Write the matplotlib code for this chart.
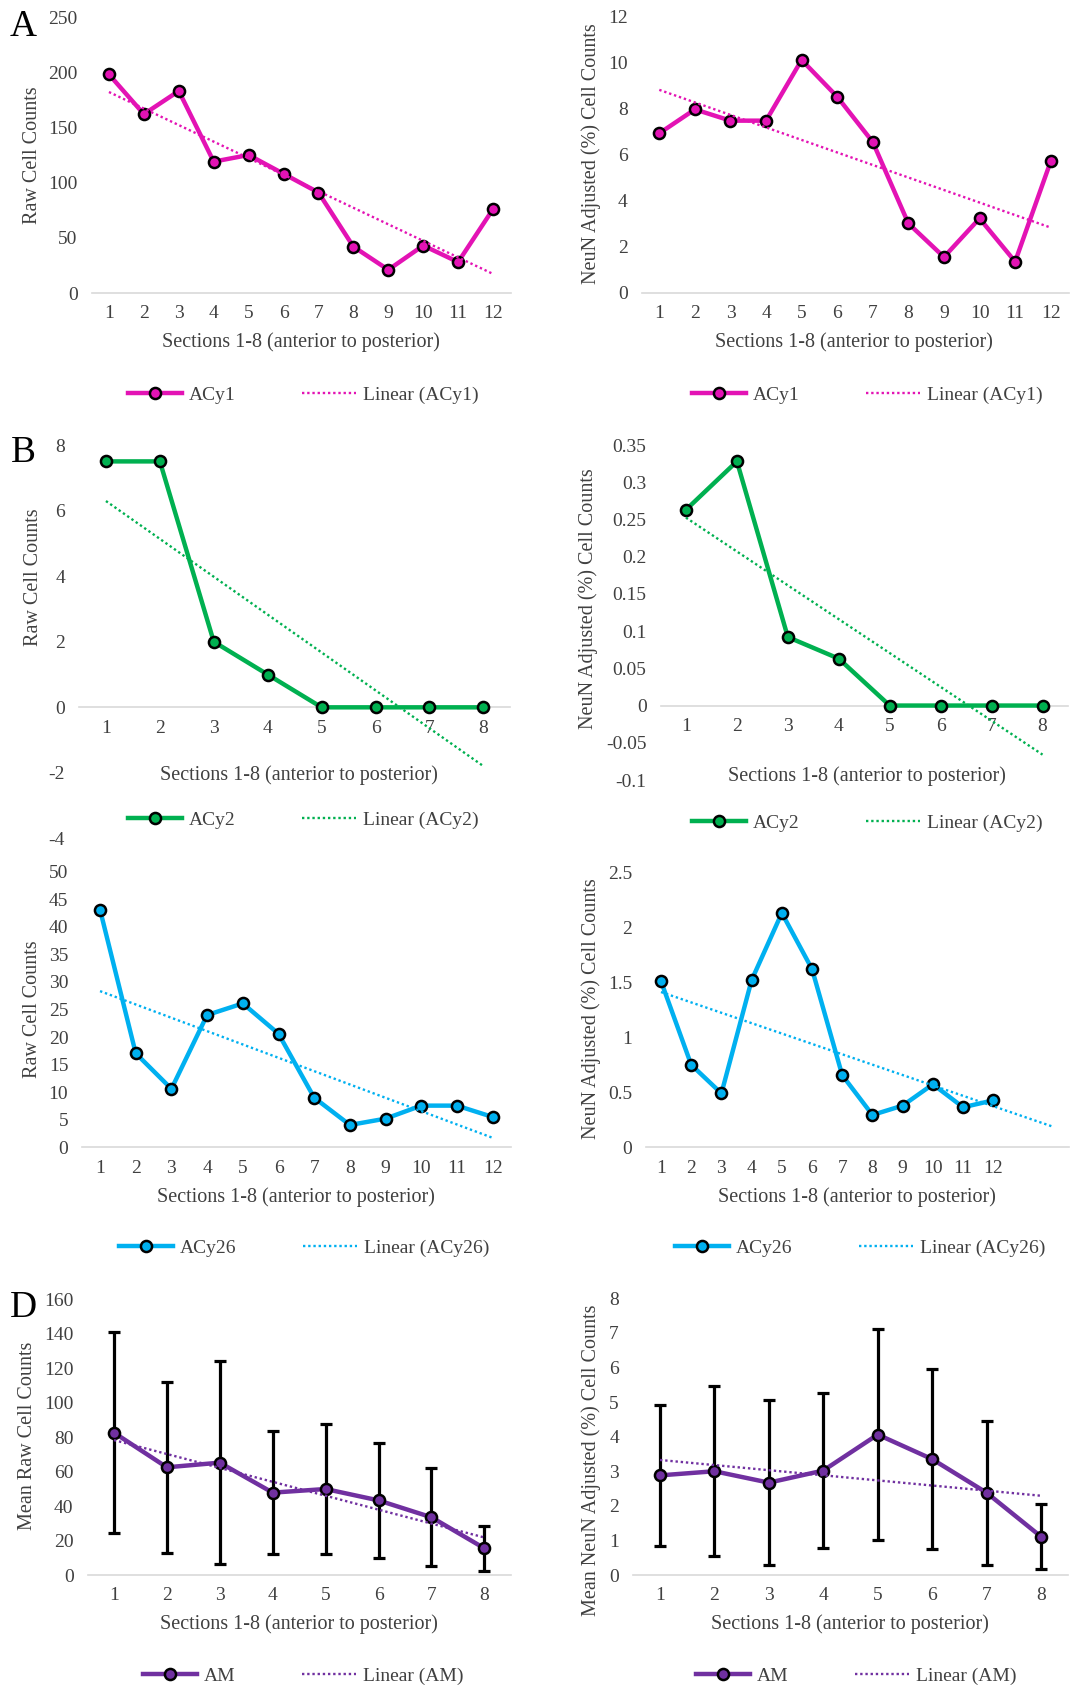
import numpy as np
import matplotlib
matplotlib.use("Agg")
from matplotlib import pyplot as plt
from matplotlib.ticker import FuncFormatter

plt.rcParams["font.family"] = ["Liberation Serif", "DejaVu Serif"]

W, H = 1091, 1688
TXT = "#404040"

sections_12 = list(range(1, 13))
sections_8 = list(range(1, 9))

acy1_raw = [198, 162, 183, 119, 125, 108, 91, 42, 21, 43, 28, 76]
acy1_neun = [6.93, 7.97, 7.48, 7.48, 10.12, 8.52, 6.55, 3.01, 1.55, 3.23, 1.35, 5.71]
acy2_raw = [7.5, 7.5, 2, 1, 0, 0, 0, 0]
acy2_neun = [0.263, 0.328, 0.092, 0.063, 0, 0, 0, 0]
acy26_raw = [43.1, 17.05, 10.6, 24.0, 26.1, 20.6, 9.0, 4.05, 5.2, 7.56, 7.56, 5.5]
acy26_neun = [1.51, 0.75, 0.49, 1.52, 2.13, 1.62, 0.655, 0.294, 0.379, 0.573, 0.364, 0.427]
am_raw = [82.6, 62.5, 65.2, 47.8, 49.9, 43.3, 33.5, 15.5]
am_raw_sd = [58.5, 49.6, 59.0, 35.8, 37.8, 33.2, 28.4, 13.0]
am_neun = [2.88, 3.0, 2.67, 3.02, 4.06, 3.35, 2.38, 1.11]
am_neun_sd = [2.04, 2.46, 2.38, 2.25, 3.06, 2.6, 2.08, 0.95]

MAGENTA = "#E313B4"
GREEN = "#00B050"
CYAN = "#00B0F0"
PURPLE = "#7030A0"

XLABEL = "Sections 1-8 (anterior to posterior)"
NEUN = "NeuN Adjusted (%) Cell Counts"
FS = 14


def panel(fig, box, ylim, ystep, x, y, color, name, ylabel,
          xlab_xy, ylab_xy, leg_xy, ncat=None, yerr=None):
    left, right, top, bottom = box
    ax = fig.add_axes([left / W, 1 - bottom / H, (right - left) / W, (bottom - top) / H])
    n = ncat or len(x)
    ax.set_xlim(0.5, n + 0.5)
    ax.set_ylim(*ylim)
    ax.set_xticks(x)
    ax.set_yticks(np.arange(ylim[0], ylim[1] + ystep / 2, ystep))
    ax.yaxis.set_major_formatter(FuncFormatter(lambda v, p: f"{round(v, 4):g}"))
    for s in ["left", "right", "top"]:
        ax.spines[s].set_visible(False)
    ax.spines["bottom"].set_position(("data", 0))
    ax.spines["bottom"].set_color("#D9D9D9")
    ax.spines["bottom"].set_linewidth(1.2)
    ax.tick_params(axis="x", length=0, pad=9, labelsize=FS, labelcolor=TXT)
    ax.tick_params(axis="y", length=0, pad=10, labelsize=FS, labelcolor=TXT)
    ax.patch.set_alpha(0)

    if yerr is not None:
        ax.errorbar(x, y, yerr=yerr, fmt="none", ecolor="black", elinewidth=2.3,
                    capsize=4, capthick=2.3, zorder=2)
    line, = ax.plot(x, y, color=color, lw=3.2, marker="o", ms=8,
                    mfc=color, mec="black", mew=1.8, zorder=3)
    k, b = np.polyfit(x, y, 1)
    xt = np.array([1, n])
    trend, = ax.plot(xt, k * xt + b, color=color, lw=1.7,
                     linestyle=(0, (1, 1.2)), zorder=4)

    def to_ax(px, py):
        return (px - left) / (right - left), (bottom - py) / (bottom - top)

    ax.set_xlabel(XLABEL, fontsize=14.5, color=TXT, va="center")
    ax.xaxis.set_label_coords(*to_ax(*xlab_xy))
    ax.set_ylabel(ylabel, fontsize=14.5, color=TXT, va="center")
    ax.yaxis.set_label_coords(*to_ax(*ylab_xy))

    fig.legend(handles=[line, trend], labels=[name, f"Linear ({name})"],
               loc="center", bbox_to_anchor=(leg_xy[0] / W, 1 - leg_xy[1] / H),
               ncol=2, frameon=False, fontsize=FS, handlelength=2.8,
               columnspacing=3.4, handletextpad=0.35, labelcolor=TXT)
    return ax


def main():
    fig = plt.figure(figsize=(W / 100, H / 100), dpi=100)

    # A
    panel(fig, (91.5, 510.5, 17, 293), (0, 250), 50, sections_12, acy1_raw,
          MAGENTA, "ACy1", "Raw Cell Counts", (301, 342), (33, 155), (303, 395))
    panel(fig, (641.5, 1068.5, 16.7, 292.7), (0, 12), 2, sections_12, acy1_neun,
          MAGENTA, "ACy1", NEUN, (854, 342), (591, 154), (867, 395))
    # B
    panel(fig, (79, 510.3, 445, 838.5), (-4, 8), 2, sections_8, acy2_raw,
          GREEN, "ACy2", "Raw Cell Counts", (299, 775), (33, 577), (303, 820))
    panel(fig, (660.5, 1068, 445, 780), (-0.1, 0.35), 0.05, sections_8, acy2_neun,
          GREEN, "ACy2", NEUN, (867, 776), (588, 599), (867, 823))
    # C
    panel(fig, (82.2, 510.5, 871.7, 1147.3), (0, 50), 5, sections_12, acy26_raw,
          CYAN, "ACy26", "Raw Cell Counts", (296, 1197), (33, 1009), (304, 1248))
    panel(fig, (645.9, 1068.8, 872.3, 1147.3), (0, 2.5), 0.5, sections_12, acy26_neun,
          CYAN, "ACy26", NEUN, (857, 1197), (591, 1009), (860, 1248), ncat=14)
    # D
    panel(fig, (87.5, 510.8, 1299.3, 1575), (0, 160), 20, sections_8, am_raw,
          PURPLE, "AM", "Mean Raw Cell Counts", (299, 1624), (28, 1436), (303, 1676),
          yerr=am_raw_sd)
    panel(fig, (632.8, 1068.2, 1298.3, 1575), (0, 8), 1, sections_8, am_neun,
          PURPLE, "AM", "Mean " + NEUN, (850, 1624), (591, 1460), (856, 1676),
          yerr=am_neun_sd)

    for letter, (px, py) in {"A": (23, 27), "B": (23, 453), "D": (23, 1308)}.items():
        fig.text(px / W, 1 - py / H, letter, fontsize=27, ha="center", va="center")

    fig.savefig("out.png", dpi=100, facecolor="white")


if __name__ == "__main__":
    main()
